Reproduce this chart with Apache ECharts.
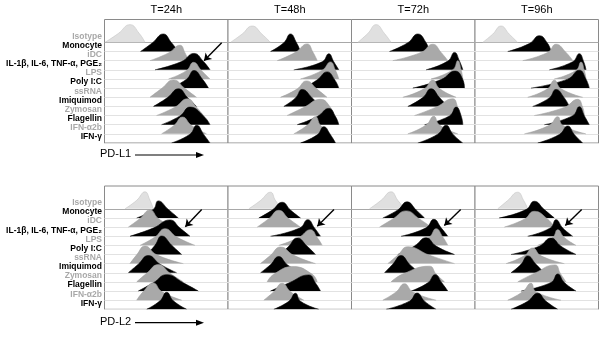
<!DOCTYPE html>
<html>
<head>
<meta charset="utf-8">
<script src="https://cdn.jsdelivr.net/npm/echarts@6/dist/echarts.min.js"></script>
<style>
html, body { margin: 0; padding: 0; background: #fff; }
#chart { width: 608px; height: 338px; }
</style>
</head>
<body>
<div id="chart"></div>
<script>
// row labels, top to bottom
var rowLabels = ['Isotype', 'Monocyte', 'iDC', 'IL-1β, IL-6, TNF-α, PGE₂', 'LPS', 'Poly I:C',
    'ssRNA', 'Imiquimod', 'Zymosan', 'Flagellin', 'IFN-α2b', 'IFN-γ'];
var rowKind = ['iso', 'blk', 'gry', 'blk', 'gry', 'blk', 'gry', 'blk', 'gry', 'blk', 'gry', 'blk'];
var timeLabels = ['T=24h', 'T=48h', 'T=72h', 'T=96h'];
var markerLabels = ['PD-L1', 'PD-L2'];

// each histogram: [start, left half, peak, right half, end, peak height]
var pdl1_24h = [
    [0.5, 13.8, 25.5, 34.8, 40.5, 17.7],
    [36, 48, 58.8, 67, 74, 17.5],
    [45.5, 64, 75.5, 80.5, 84, 15.4],
    [50.5, 77, 89.5, 99, 105.5, 16.4],
    [64, 82, 89, 97, 105.5, 16.6],
    [65.5, 82, 89.5, 98, 104, 17.6],
    [45.5, 57, 69, 80.5, 92, 17.3],
    [49, 63, 74, 83, 92, 17.6],
    [52, 70.5, 83, 92, 99, 16.8],
    [57, 75.5, 85.5, 99, 105.5, 17.6],
    [57, 69.5, 78, 87, 102, 16.8],
    [67, 85.5, 92.2, 99, 105.5, 17.7]
];
var pdl1_48h = [
    [2.5, 14, 24.2, 34, 42.5, 16.3],
    [42.5, 55.8, 62.5, 68.5, 72.5, 17.5],
    [49.2, 67.5, 79.2, 85, 89.2, 16.7],
    [65.8, 94.2, 100.8, 105.8, 110.8, 16],
    [72.5, 94, 102.5, 107.5, 110.8, 17],
    [75.8, 89, 99.2, 106.8, 110.8, 16.2],
    [52.5, 69, 78.5, 89, 99, 16.3],
    [55.8, 67.5, 74.2, 84.2, 92.5, 17],
    [59, 75.8, 92.5, 102.5, 105.8, 16.2],
    [69.2, 89.2, 100.8, 107.5, 110.8, 16.3],
    [65.8, 79.2, 87.5, 92.5, 102.5, 17.1],
    [72.5, 89.2, 95.8, 102.5, 107.5, 16.3]
];
var pdl1_72h = [
    [6.3, 16.3, 24.6, 33, 39.6, 17.7],
    [38, 56.3, 66.3, 74.6, 78, 17.5],
    [41.3, 69.6, 81.3, 89.6, 96.3, 16.4],
    [74.6, 96.3, 103, 108, 111.3, 17.4],
    [79.6, 101.3, 106.3, 109.6, 111.3, 18.3],
    [61.3, 89.6, 103.6, 111.3, 113, 17],
    [51.3, 73, 81.3, 88, 104.6, 17.3],
    [56.3, 71.3, 79.6, 88, 96.3, 17.6],
    [63, 84.6, 101.3, 106.3, 109.6, 16.8],
    [73, 98, 104.6, 109.6, 111.3, 17.6],
    [56.3, 74.6, 82.3, 88, 106.3, 17.5],
    [66.3, 86.3, 94.6, 101.3, 111.3, 17.7]
];
var pdl1_96h = [
    [7.7, 17.7, 26, 34.3, 42.7, 16.3],
    [32.7, 54.3, 64.3, 72.7, 76, 15.8],
    [47.7, 72.7, 81, 91, 97.7, 16.4],
    [74.3, 97.7, 104.3, 108.7, 111, 16.1],
    [79.3, 101, 106, 109.3, 111, 16.9],
    [56, 92.7, 104.3, 111, 114.3, 17.9],
    [52.7, 72.7, 79.3, 86, 107.7, 17],
    [57.7, 74.3, 81, 89.3, 94.3, 17],
    [59.3, 89.3, 102.7, 107.7, 109.3, 16.2],
    [69.3, 97.7, 104.3, 109.3, 114.3, 18],
    [49.3, 74.3, 82.7, 87.7, 111, 17.1],
    [62.7, 84.3, 92.7, 99.3, 107.7, 17]
];
var pdl2_24h = [
    [20.5, 32.2, 40.5, 45.5, 48.8, 17],
    [32.2, 48.8, 53.8, 63.8, 73.8, 17.1],
    [23.8, 35.5, 45.5, 53.8, 67.2, 17.2],
    [25.5, 48.8, 65.5, 75.5, 85.5, 16.3],
    [35.5, 50.5, 60.5, 72.2, 90.5, 16.7],
    [42.2, 50.5, 57.2, 67.2, 77.2, 18.5],
    [25.5, 32.2, 40.5, 52.2, 78.8, 17.6],
    [23.8, 33.8, 43.8, 55.5, 72.2, 17.2],
    [32.2, 42.2, 53.8, 65.5, 78.8, 17.3],
    [33.8, 48.8, 62.2, 78.8, 93.8, 16.4],
    [32.2, 38.8, 48.8, 57.2, 77.2, 17.2],
    [42.2, 55.5, 62.2, 68.8, 82.2, 17]
];
var pdl2_48h = [
    [20.8, 32.5, 42.5, 47.5, 54.2, 16.6],
    [30.8, 44.2, 54.2, 62.5, 72.5, 15.7],
    [29.2, 40.8, 50.8, 60.8, 72.5, 16.8],
    [42.5, 71.8, 79.8, 86.5, 92.5, 16.6],
    [50.8, 70.8, 82.5, 89.2, 94.2, 15.7],
    [52.5, 60.8, 69.2, 79.2, 87.5, 16.5],
    [32.5, 42.5, 52.5, 65.8, 87.5, 16.6],
    [32.5, 42.5, 50.8, 59.2, 72.5, 16.2],
    [39.2, 45.8, 65, 84.2, 89.2, 15.3],
    [42.5, 60.8, 80.8, 87.5, 92.5, 16.1],
    [35.8, 45.8, 54.2, 62.5, 75.8, 16.9],
    [45.8, 60.8, 67.5, 72.5, 90.8, 16]
];
var pdl2_72h = [
    [18, 29.6, 39.6, 46.3, 53, 17],
    [31.3, 46.3, 55.6, 64.6, 73, 16.1],
    [28, 41.3, 54.6, 68, 79.6, 16.2],
    [49.6, 74.6, 82.3, 89.6, 96.3, 16.9],
    [63, 78, 84.6, 91.3, 96.3, 16.7],
    [46.3, 63, 74.6, 84.6, 103, 16.8],
    [36.3, 46.3, 56.3, 78, 103, 16.9],
    [33, 41.3, 49.6, 58, 68, 17.2],
    [39.6, 51.3, 78, 84.6, 93, 15.7],
    [59.6, 76.3, 83.6, 90.3, 96.3, 16.4],
    [31.3, 44.6, 53, 61.3, 84.6, 16.5],
    [34.6, 58, 65.6, 73, 84.6, 16.3]
];
var pdl2_96h = [
    [22.7, 32.7, 42.7, 48.7, 52.7, 16.6],
    [24.3, 51, 59.3, 69.3, 79.3, 16.7],
    [29.3, 49.3, 59.3, 72.7, 79.3, 15.8],
    [52.7, 75.3, 81, 87.7, 97.7, 16.6],
    [62.7, 77.7, 82.7, 89.3, 101, 15.7],
    [36, 64.3, 76, 86, 101, 16.5],
    [31, 49.3, 57.7, 66, 89.3, 15.6],
    [36, 46, 52.7, 61, 69.3, 16.9],
    [42.7, 59.3, 80, 85.3, 91, 17],
    [46, 76, 82.7, 89.3, 101, 17.1],
    [32.7, 47.7, 56, 61, 86, 16.9],
    [36, 52.7, 62.7, 71, 82.7, 16]
];

// arrows pointing at the IL-1β... row: [x start, y start, x end, y end]
var arrowsPDL1 = [[117.2, 100.3, 99.5, 82.3], [125, 101, 109, 84], [128.5, 101, 111.5, 84], [126.7, 101, 110, 83.7]];
var arrowsPDL2 = [[97.2, 100, 80.8, 82.6], [106, 100, 89.3, 83.3], [109.2, 100, 92.8, 84], [106.7, 100, 90.3, 84]];

var panels = [[pdl1_24h, pdl1_48h, pdl1_72h, pdl1_96h], [pdl2_24h, pdl2_48h, pdl2_72h, pdl2_96h]];
var arrows = [arrowsPDL1, arrowsPDL2];

var FONT = 'Liberation Sans, Arial, sans-serif';
var gridLeft = 104.5, colW = 123.5;
var gridTops = [19.5, 186], gridH = [123.5, 123.3];
var yMax = 123.5, rowStep = 9.15;
var fills = { iso: '#e0e0e0', gry: '#a9a9a9', blk: '#000000' };
var edges = { iso: '#c4c4c4', gry: '#a0a0a0', blk: '#000000' };

var myChart = echarts.init(document.getElementById('chart'), null, { renderer: 'canvas' });

var grids = [], xAxes = [], yAxes = [], series = [];

function labelFormatter(v) {
    var k = Math.round(v / rowStep);
    if (Math.abs(v - k * rowStep) > 0.05 || k > 11) return '';
    var i = 11 - k;
    return '{' + (rowKind[i] == 'blk' ? 'b' : 'g') + '|' + rowLabels[i] + '}';
}

for (var r = 0; r < 2; r++) {
    for (var c = 0; c < 4; c++) {
        var p = r * 4 + c;
        grids.push({
            left: gridLeft + c * colW, top: gridTops[r], width: colW, height: gridH[r],
            show: true, borderColor: '#8a8a8a', borderWidth: 1, backgroundColor: '#fff'
        });
        xAxes.push({
            gridIndex: p, type: 'value', min: 0, max: colW,
            position: 'top',
            name: r == 0 ? timeLabels[c] : '',
            nameLocation: 'middle', nameGap: 4,
            nameTextStyle: { fontSize: 11, color: '#000', fontFamily: FONT, verticalAlign: 'bottom' },
            axisLine: { show: false }, axisTick: { show: false },
            axisLabel: { show: false }, splitLine: { show: false }
        });
        yAxes.push({
            gridIndex: p, type: 'value', min: 0, max: yMax, interval: rowStep,
            axisLine: { show: false }, axisTick: { show: false }, splitLine: { show: false },
            axisLabel: {
                show: c == 0, margin: 2.5, verticalAlign: 'bottom', padding: [0, 0, 1.5, 0],
                showMaxLabel: false,
                formatter: labelFormatter,
                rich: {
                    b: { fontSize: 8.5, fontWeight: 'bold', color: '#000', fontFamily: FONT },
                    g: { fontSize: 8.5, fontWeight: 'bold', color: '#a8a8a8', fontFamily: FONT }
                }
            }
        });

        var curves = panels[r][c];
        for (var i = 0; i < curves.length; i++) {
            var cv = curves[i];
            var base = (11 - i) * rowStep;
            var kind = rowKind[i];
            series.push({
                type: 'line',
                xAxisIndex: p, yAxisIndex: p,
                data: [[cv[0], base], [cv[1], base + cv[5] / 2], [cv[2], base + cv[5]],
                    [cv[3], base + cv[5] / 2], [cv[4], base]],
                smooth: 0.5,
                symbol: 'none',
                silent: true,
                z: 10 + 2 * i,
                lineStyle: { color: edges[kind], width: 0.6 },
                areaStyle: { color: fills[kind], opacity: 1, origin: base },
                markLine: {
                    silent: true, symbol: 'none', z: 9 + 2 * i,
                    label: { show: false },
                    lineStyle: { color: i == 0 ? '#a8a8a8' : '#e2e2e2', width: 1, type: 'solid' },
                    data: [{ yAxis: base }]
                }
            });
        }

        var a = arrows[r][c];
        series.push({
            type: 'line', xAxisIndex: p, yAxisIndex: p, data: [], clip: false, silent: true, z: 100,
            markLine: {
                silent: true, z: 100, symbol: ['none', 'arrow'], symbolSize: 7,
                label: { show: false },
                lineStyle: { color: '#000', width: 1.4, type: 'solid' },
                data: [[{ coord: [a[0], a[1]] }, { coord: [a[2], a[3]] }]]
            }
        });
    }
}

// marker name with arrow under each row
var graphics = [];
var markerY = [155, 322.7];
for (var m = 0; m < 2; m++) {
    graphics.push({
        type: 'text', left: 100, top: markerY[m] - 6.5,
        style: { text: markerLabels[m], font: '11px ' + FONT, fill: '#000' }
    });
    graphics.push({
        type: 'line', shape: { x1: 135, y1: markerY[m], x2: 198, y2: markerY[m] },
        style: { stroke: '#000', lineWidth: 1.2 }
    });
    graphics.push({
        type: 'polygon', shape: { points: [[196, markerY[m] - 3], [204, markerY[m]], [196, markerY[m] + 3]] },
        style: { fill: '#000' }
    });
}

var option = {
    animation: false,
    backgroundColor: '#fff',
    grid: grids,
    xAxis: xAxes,
    yAxis: yAxes,
    series: series,
    graphic: graphics
};
myChart.setOption(option);
</script>
</body>
</html>
